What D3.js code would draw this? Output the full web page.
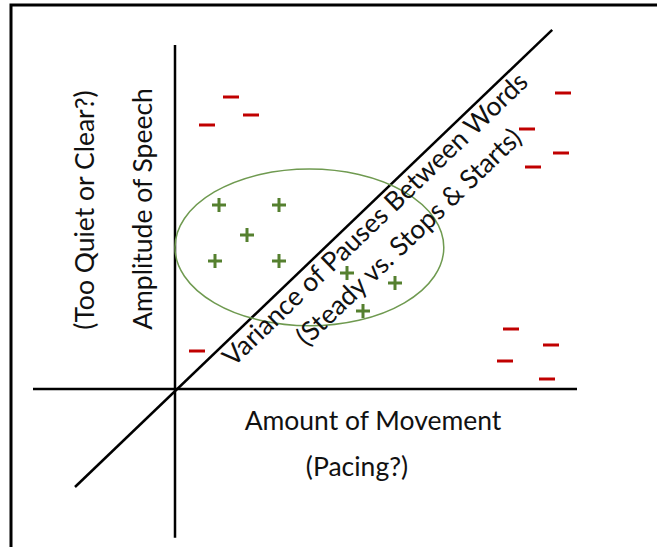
<!DOCTYPE html>
<html>
<head>
<meta charset="utf-8">
<script src="https://cdn.jsdelivr.net/npm/d3@7"></script>
<style>
  body { margin: 0; background: #fff; }
  text { font-family: Lato, "Open Sans", sans-serif; fill: #111; }
</style>
</head>
<body>
<script>
// Concept plot: points in units where the axes cross at (0, 0)
var minusPoints = [
    [1.4, 7.3], [0.8, 6.6], [1.9, 6.85],
    [9.7, 7.4], [8.8, 6.5], [9.65, 5.9], [8.95, 5.55],
    [8.4, 1.5], [9.4, 1.1], [8.25, 0.7], [9.3, 0.25],
    [0.55, 0.95]
];
var plusPoints = [
    [1.1, 4.6], [2.6, 4.6], [1.8, 3.85], [1.0, 3.2], [2.6, 3.2],
    [4.3, 2.9], [5.5, 2.65], [4.7, 1.95]
];
// cluster ellipse: centre and radii in the same units
var clusterCenter = [3.36, 3.54];
var clusterRadii = [3.36, 1.96];

var xLabels = ["Amount of Movement", "(Pacing?)"];
var yLabels = ["Amplitude of Speech", "(Too Quiet or Clear?)"];
var diagLabels = ["Variance of Pauses Between Words", "(Steady vs. Stops & Starts)"];

var width = 657, height = 547;

var svg = d3.select("body").append("svg")
    .attr("width", width)
    .attr("height", height);

// frame (top and left edges only, as in the slide)
svg.append("path")
    .attr("d", "M11,547 V5 H657")
    .attr("fill", "none")
    .attr("stroke", "#000")
    .attr("stroke-width", 3);

var x = d3.scaleLinear().domain([0, 10]).range([175, 575]);
var y = d3.scaleLinear().domain([0, 10]).range([389, -11]);

// axes
svg.append("line")
    .attr("x1", x(-3.55)).attr("x2", x(10.05))
    .attr("y1", y(0)).attr("y2", y(0))
    .attr("stroke", "#000").attr("stroke-width", 2.5);
svg.append("line")
    .attr("x1", x(0)).attr("x2", x(0))
    .attr("y1", y(-3.72)).attr("y2", y(8.6))
    .attr("stroke", "#000").attr("stroke-width", 2.5);
// diagonal third axis
var diagA = [-2.5, -2.45], diagB = [9.43, 8.98];
svg.append("line")
    .attr("x1", x(diagA[0])).attr("y1", y(diagA[1]))
    .attr("x2", x(diagB[0])).attr("y2", y(diagB[1]))
    .attr("stroke", "#000").attr("stroke-width", 2.5);

// ellipse
svg.append("ellipse")
    .attr("cx", x(clusterCenter[0]))
    .attr("cy", y(clusterCenter[1]))
    .attr("rx", x(clusterRadii[0]) - x(0))
    .attr("ry", y(0) - y(clusterRadii[1]))
    .attr("fill", "none")
    .attr("stroke", "#6f9a50")
    .attr("stroke-width", 1.5);

// minus marks
svg.selectAll(".minus")
    .data(minusPoints)
    .enter()
    .append("line")
    .attr("class", "minus")
    .attr("x1", function (d) { return x(d[0]) - 8; })
    .attr("x2", function (d) { return x(d[0]) + 8; })
    .attr("y1", function (d) { return y(d[1]); })
    .attr("y2", function (d) { return y(d[1]); })
    .attr("stroke", "#c00000")
    .attr("stroke-width", 3);

// plus marks
svg.selectAll(".plus")
    .data(plusPoints)
    .enter()
    .append("path")
    .attr("class", "plus")
    .attr("d", function (d) {
        var cx = x(d[0]), cy = y(d[1]), s = 7;
        return "M" + (cx - s) + "," + cy + "H" + (cx + s) +
               "M" + cx + "," + (cy - s) + "V" + (cy + s);
    })
    .attr("stroke", "#55802f")
    .attr("stroke-width", 3);

var fontSize = 26.5;

// horizontal axis labels
svg.append("text")
    .attr("x", 373).attr("y", 430)
    .attr("text-anchor", "middle")
    .attr("font-size", fontSize)
    .text(xLabels[0]);
svg.append("text")
    .attr("x", 357).attr("y", 476)
    .attr("text-anchor", "middle")
    .attr("font-size", fontSize)
    .text(xLabels[1]);

// vertical axis labels
svg.append("text")
    .attr("transform", "translate(152,209) rotate(-90)")
    .attr("text-anchor", "middle")
    .attr("font-size", fontSize)
    .text(yLabels[0]);
svg.append("text")
    .attr("transform", "translate(94,210) rotate(-90)")
    .attr("text-anchor", "middle")
    .attr("font-size", fontSize)
    .text(yLabels[1]);

// labels along the diagonal
var ox = x(0), oy = y(0);
var ang = Math.atan2(y(diagA[1]) - y(diagB[1]), x(diagB[0]) - x(diagA[0]));
var ux = Math.cos(ang), uy = -Math.sin(ang);   // along the line
var nx = -uy, ny = ux;                          // below-right of the line
function diagPos(along, perp) {
    return [ox + ux * along + nx * perp, oy + uy * along + ny * perp];
}
[[diagLabels[0], 262, 25], [diagLabels[1], 274, 61]].forEach(function (l) {
    var p = diagPos(l[1], l[2]);
    svg.append("text")
        .attr("transform", "translate(" + p[0] + "," + p[1] + ") rotate(" + (-ang * 180 / Math.PI) + ")")
        .attr("text-anchor", "middle")
        .attr("font-size", fontSize)
        .text(l[0]);
});
</script>
</body>
</html>
